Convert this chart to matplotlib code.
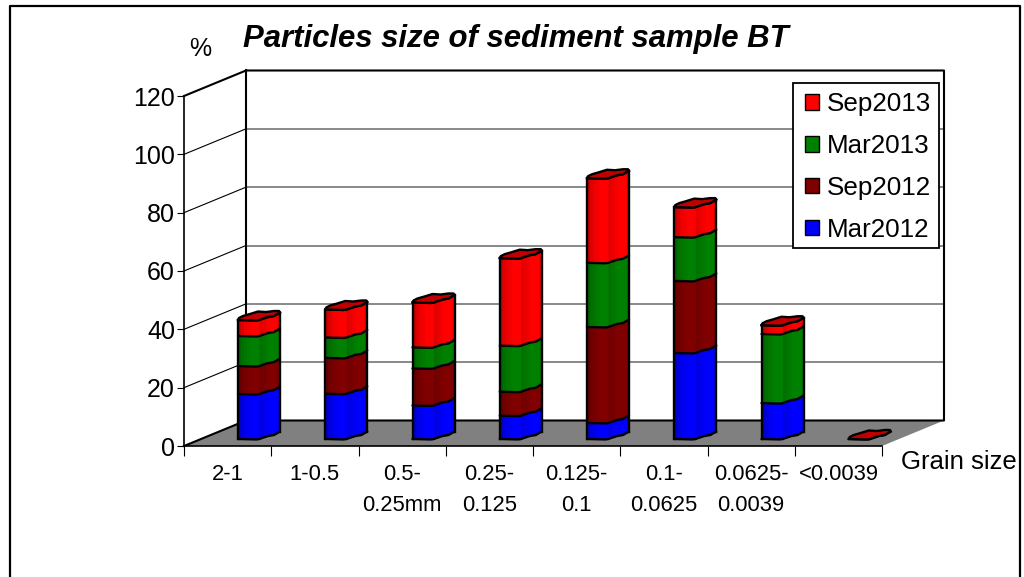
import matplotlib
matplotlib.use('Agg')
import matplotlib.pyplot as plt
import numpy as np
from matplotlib.lines import Line2D
from matplotlib.patches import Patch, Polygon, Rectangle

categories = ['2-1', '1-0.5', '0.5-\n0.25mm', '0.25-\n0.125', '0.125-\n0.1', '0.1-\n0.0625', '0.0625-\n0.0039', '<0.0039']
mar2012 = [15.4, 15.5, 11.5, 8.0, 5.5, 29.5, 12.3, 0]
sep2012 = [9.6, 12.3, 12.7, 8.2, 32.9, 24.7, 0, 0]
mar2013 = [10.3, 7.0, 7.2, 15.8, 22.0, 15.0, 23.7, 0]
sep2013 = [5.5, 9.6, 15.4, 30.0, 29.0, 10.3, 3.0, 0]
series = [mar2012, sep2012, mar2013, sep2013]
names = ['Mar2012', 'Sep2012', 'Mar2013', 'Sep2013']
colors = ['#0000ff', '#800000', '#008000', '#ff0000']
yticks = [0, 20, 40, 60, 80, 100, 120]

plt.rcParams['font.family'] = ['Liberation Sans', 'DejaVu Sans']

W, H = 1024, 577
fig = plt.figure(figsize=(W/100, H/100), dpi=100)
ax = fig.add_axes([184/W, (H-446)/H, 698/W, 350/H])
ax.set_xlim(0, 8)
ax.set_ylim(0, 120)

# pixel sizes to data units
px = 8/698
py = 120/350
dx = 62*px
dy = 25.5*py

# walls and floor
ax.add_patch(Polygon([(0, 0), (8, 0), (8+dx, dy), (dx, dy)], fc='#808080', ec='none', zorder=1, clip_on=False))
for v in yticks[1:-1]:
    ax.plot([dx, 8+dx], [v+dy, v+dy], color='#808080', lw=1.3, zorder=1, clip_on=False)
    ax.plot([0, dx], [v, v+dy], color='black', lw=0.8, zorder=1, clip_on=False)
ax.plot([0, dx, 8+dx, 8+dx, dx, dx], [120, 120+dy, 120+dy, dy, dy, 120+dy], color='black', lw=1.5, zorder=2, clip_on=False)
ax.plot([0, dx], [0, dy], color='black', lw=1.5, zorder=2, clip_on=False)

# front outline of one bar in px: x from its left corner, y up
front_x = np.array([0, 20, 24, 30, 36, 42])
front_y = np.array([0, -0.5, 1, 3, 4, 7.5])
top_x = [0, 1, 5, 12, 20, 28, 36, 41, 42]
top_y = [0, 2, 4, 6, 8.5, 8, 9, 9, 7.5]
sx = np.linspace(0, 42, 15)
sy = np.interp(sx, front_x, front_y)
shade = np.interp(sx[:-1], [0, 4, 12, 19, 21, 30, 38, 42], [0.78, 0.9, 1, 1, 0.88, 1, 1, 0.8])

for i in range(len(categories)):
    x0 = i + 54*px
    floor = 7*py
    base = floor
    xs = x0 + sx*px
    ys = sy*py
    for k, vals in enumerate(series):
        v = vals[i]
        if v == 0:
            continue
        c = np.array(matplotlib.colors.to_rgb(colors[k]))
        ax.fill_between(xs, base+ys, base+v+ys, color=c, lw=0, zorder=3, clip_on=False)
        for j in range(len(shade)):
            ax.fill_between(xs[j:j+2], base+ys[j:j+2], base+v+ys[j:j+2], color=c*shade[j], lw=0, antialiased=False, zorder=3, clip_on=False)
        ax.plot(xs, base+ys, color='black', lw=1.7, zorder=4, clip_on=False, solid_capstyle='round')
        base += v
    ax.plot(xs, base+ys, color='black', lw=1.7, zorder=4, clip_on=False)
    if base > floor:
        ax.plot([xs[0]]*2, [floor, base], color='black', lw=1.7, zorder=4, clip_on=False)
        ax.plot([xs[-1]]*2, [floor+ys[-1], base+ys[-1]], color='black', lw=1.7, zorder=4, clip_on=False)
    # top cap
    cap = list(zip(x0+np.array(top_x)*px, base+np.array(top_y)*py)) + list(zip(xs[::-1], base+ys[::-1]))
    ax.add_patch(Polygon(cap, fc='#c00000', ec='black', lw=1.7, zorder=5, clip_on=False, joinstyle='round'))

# axes
for s in ['top', 'right']:
    ax.spines[s].set_visible(False)
ax.spines['left'].set_linewidth(1.2)
ax.spines['bottom'].set_linewidth(1.2)
ax.spines['left'].set_zorder(6)
ax.spines['bottom'].set_zorder(6)
ax.set_yticks(yticks)
ax.tick_params(axis='y', labelsize=18, length=5, width=0.8, pad=1.5)
ax.set_xticks(range(9))
ax.set_xticklabels([])
ax.tick_params(axis='x', which='major', length=7, width=0.8)
ax.set_xticks(np.arange(8)+0.5, minor=True)
ax.set_xticklabels(categories, minor=True, fontsize=15.8, linespacing=1.6)
ax.tick_params(axis='x', which='minor', length=0, pad=13)

# legend box drawn apart so the entries can sit where they should
fig.add_artist(Rectangle((793/W, 1-248/H), 146/W, 165/H, fc='white', ec='black', lw=1.3, transform=fig.transFigure, zorder=9))
handles = [Patch(fc=colors[k], ec='black', lw=1, label=names[k]) for k in range(3, -1, -1)]
leg = fig.legend(handles=handles, loc='upper left', bbox_to_anchor=(805/W, 1-92/H), bbox_transform=fig.transFigure,
                 fontsize=18.7, frameon=False,
                 handlelength=0.55, handleheight=0.55, handletextpad=0.3, labelspacing=0.69,
                 borderpad=0, borderaxespad=0, labelcolor='black')
leg.set_zorder(10)

# texts
fig.text(516/W, 1-39/H, 'Particles size of sediment sample BT', fontsize=22.4, fontweight='bold', fontstyle='italic',
         ha='center', va='center')
fig.text(200/W, 1-49/H, '%', fontsize=18, ha='center', va='center')
fig.text(959/W, 1-462/H, 'Grain size', fontsize=18.5, ha='center', va='center')

# outer frame, runs off the bottom
fig.add_artist(Line2D([10/W, 10/W, 1020/W, 1020/W], [0, 1-6/H, 1-6/H, 0], color='black', lw=1.6, transform=fig.transFigure))

plt.savefig('out.png', dpi=100, facecolor='white')
